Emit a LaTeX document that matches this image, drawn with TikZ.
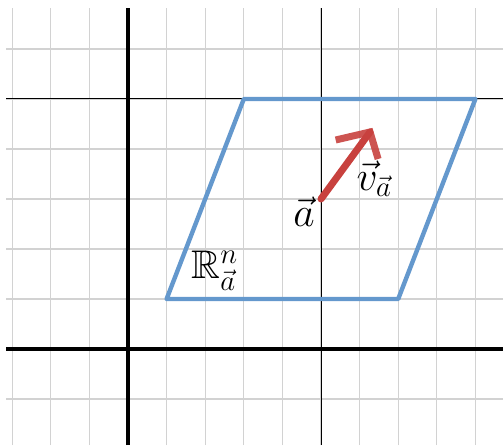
\documentclass[tikz,border=0pt]{standalone}
\usepackage{amsmath,amssymb}
\definecolor{gridgray}{RGB}{210,210,210}
\definecolor{planeblue}{RGB}{100,152,205}
\definecolor{vecred}{RGB}{200,65,62}
\begin{document}
\begin{tikzpicture}[x=19.3pt,y=25pt,
  gridline/.style={gridgray,line width=0.6pt},
  axisline/.style={black,line width=2pt},
  refline/.style={black,line width=0.5pt},
  plane/.style={planeblue,line width=2.2pt,line join=round,line cap=round},
  vecline/.style={vecred,line width=3.5pt,line cap=round},
  headline/.style={vecred,line width=3.5pt,line cap=butt,opacity=0.9},
  lbl/.style={inner sep=0pt,font=\fontsize{20}{22}\selectfont}]
\useasboundingbox (-3.316,-1.92) rectangle (9.715,6.98);
% grid
\foreach \i in {-3,...,9} \draw[gridline] (\i,-1.92) -- (\i,6.82);
\foreach \j in {-1,...,6} \draw[gridline] (-3.16,\j) -- (9.715,\j);
% reference lines
\draw[refline] (5,-1.92) -- (5,6.82);
\draw[refline] (-3.16,5) -- (9.715,5);
% axes
\draw[axisline] (0,-1.92) -- (0,6.82);
\draw[axisline] (-3.16,0) -- (9.715,0);
% plane
\coordinate (p1) at (1,1);
\coordinate (p2) at (7,1);
\coordinate (p3) at (9,5);
\coordinate (p4) at (3,5);
\draw[plane] (p1) -- (p2) -- (p3) -- (p4) -- cycle;
% vector
\coordinate (a) at (5,3);
\coordinate (tip) at (6.27,4.34);
\coordinate (h1) at (5.38,4.18);
\coordinate (h2) at (6.48,3.8);
\draw[vecline] (a) -- (tip);
\draw[headline] (h1) -- (tip) -- (h2);
% labels
\node[lbl] (la) at (4.56,2.74) {$\vec{a}$};
\node[lbl] (lv) at (6.38,3.4) {$\vec{v}_{\vec{a}}$};
\node[lbl] (lr) at (2.25,1.56) {$\mathbb{R}^{n}_{\vec{a}}$};
\end{tikzpicture}
\end{document}
